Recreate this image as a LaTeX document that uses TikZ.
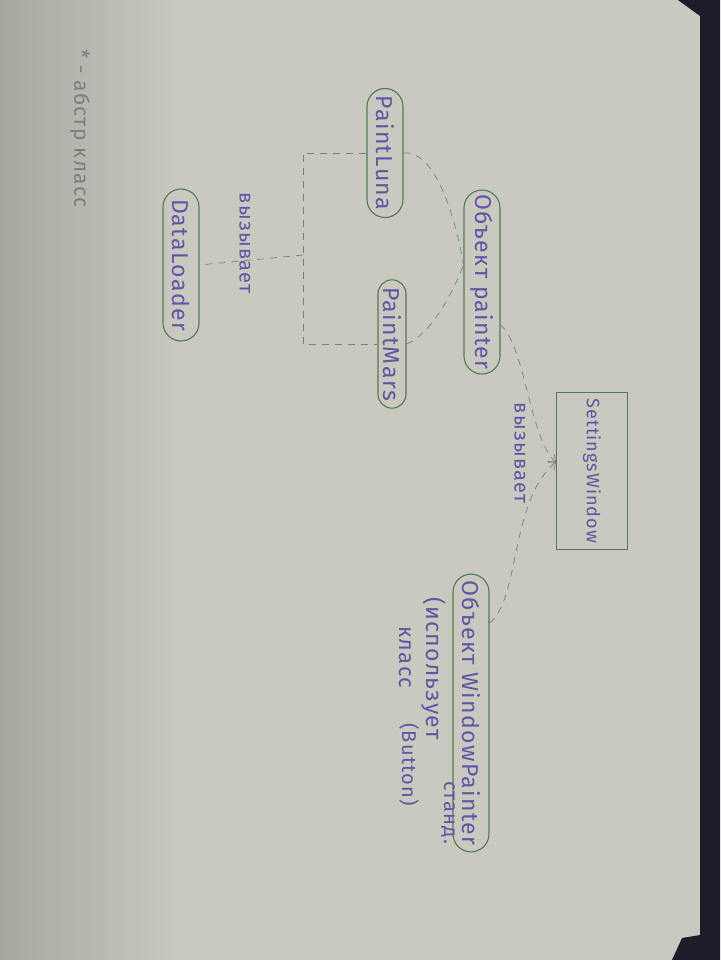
\documentclass[tikz,border=0pt]{standalone}
\usepackage{fontspec}
\setmainfont[LetterSpace=6]{Fira Sans}
\usetikzlibrary{shapes.misc,arrows.meta}
\definecolor{paper}{RGB}{202,201,192}
\definecolor{paperdark}{RGB}{168,167,160}
\definecolor{ink}{RGB}{96,84,165}
\definecolor{pen}{RGB}{80,122,82}
\definecolor{pencil}{RGB}{125,125,128}
\definecolor{desk}{RGB}{28,29,40}

\begin{document}
\begin{tikzpicture}[x=1pt,y=-1pt,
    cls/.style={draw=pen,line width=1.1pt,rounded rectangle,rotate=-90,%
      text=ink,font=\fontsize{23}{26}\selectfont,inner xsep=4pt,minimum height=36pt},
    link/.style={draw=pencil,dash pattern=on 7pt off 6pt,line width=0.7pt},
    note/.style={rotate=-90,text=ink,inner sep=1pt,font=\fontsize{20}{24}\selectfont}]
  \useasboundingbox (0,0) rectangle (720,960) ;
  \fill[paper] (0,0) rectangle (720,960) ;
  \shade[left color=paperdark,right color=paper] (0,0) rectangle (180,960) ;
  \fill[desk] (678,0) -- (720,0) -- (720,960) -- (672,960) -- (682,938) -- (700,935) %
    -- (700,16) -- cycle ;
  % classes
  \node[cls,minimum width=137pt] (luna) at (385,153) {PaintLuna} ;
  \node[cls,minimum width=160pt] (loader) at (181,265) {DataLoader} ;
  \node[cls,minimum width=122pt,minimum height=28pt] (mars) at (392,344) {PaintMars} ;
  \node[cls,minimum width=192pt] (painter) at (482,282) {Объект painter} ;
  \node[cls,minimum width=273pt] (wp) at (471,713) {Объект WindowPainter} ;
  \node[draw=pen,line width=1.1pt,rotate=-90,text=ink,font=\fontsize{18}{22}\selectfont,%
    minimum width=157pt,minimum height=71pt] (sw) at (592,471) {SettingsWindow} ;
  % calls
  \coordinate (fork) at (303,255) ;
  \draw[link] (luna.south) -| (fork) |- (mars.south) ;
  \draw[link] (fork) -- (loader.north) ;
  \node[note] (call1) at (245,243) {вызывает} ;
  \draw[link] (luna.north) .. controls (435,150) and (455,215) .. ([yshift=17pt]painter.south) ;
  \draw[link] (mars.north) .. controls (430,335) and (452,295) .. ([yshift=17pt]painter.south) ;
  \draw[link,-{Straight Barb[length=6pt,width=10pt]}] ([yshift=-43pt]painter.north) %
    .. controls (525,345) and (530,440) .. ([yshift=9pt]sw.south) ;
  \draw[link,-{Straight Barb[length=6pt,width=10pt]}] ([yshift=90pt]wp.north) %
    .. controls (520,600) and (510,500) .. ([yshift=9pt]sw.south) ;
  \node[note,fill=paper] (call2) at (520,453) {вызывает} ;
  % notes
  \node[note,anchor=west,font=\fontsize{23}{26}\selectfont] (uses) at (434,596) {(использует} ;
  \node[note,anchor=west] (std) at (448,780) {станд.} ;
  \node[note,anchor=west,font=\fontsize{22}{26}\selectfont] (kls) at (405,625) {класс} ;
  \node[note,anchor=west] (btn) at (409,722) {(Button)} ;
  \node[note,anchor=west,text=pencil,font=\fontsize{21}{24}\selectfont] (legend) %
    at (80,48) {* - абстр класс} ;
\end{tikzpicture}
\end{document}
